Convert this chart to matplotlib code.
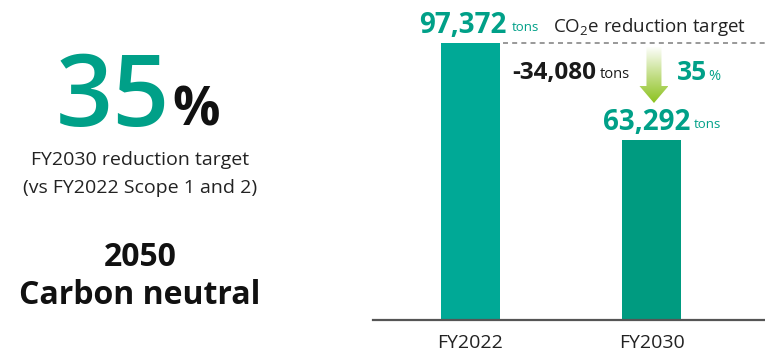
import matplotlib.pyplot as plt
import numpy as np
from matplotlib.patches import Polygon
from matplotlib.colors import LinearSegmentedColormap

plt.rcParams['font.family'] = ['Open Sans', 'DejaVu Sans']
plt.rcParams['mathtext.fontset'] = 'custom'
plt.rcParams['mathtext.rm'] = 'Open Sans'

years = ["FY2022", "FY2030"]
emissions = [97372, 63292]
bar_colors = ["#00a996", "#009b80"]
reduction = emissions[0] - emissions[1]
pct = round(reduction / emissions[0] * 100)

W, H = 765, 353
fig = plt.figure(figsize=(W / 100, H / 100), dpi=100)

def px(x, y):
    return x / W, 1 - y / H

green = "#00a088"

# bar panel
ax = fig.add_axes([373 / W, 1 - 320 / H, (W - 373) / W, 320 / H])
ymax = emissions[0] * 320 / 277
ax.bar([0, 1], emissions, width=0.326, color=bar_colors)
ax.set_xlim(-0.539, 1.627)
ax.set_ylim(0, ymax)
for s in ["top", "right", "left"]:
    ax.spines[s].set_visible(False)
ax.spines["bottom"].set_color("#555555")
ax.spines["bottom"].set_linewidth(1.6)
ax.set_yticks([])
ax.set_xticks([0, 1])
ax.set_xticklabels(years, fontsize=14, color="#222222")
ax.tick_params(axis="x", length=0, pad=10)

def dx(xpx):
    # pixel column -> data x
    return (xpx - 373) / 181 - 0.539

def dy(ypx):
    return (320 - ypx) / 320 * ymax

# dashed reference line at FY2022 level
ax.plot([dx(503), dx(765)], [emissions[0]] * 2, ls=(0, (3, 2.5)), color="#888888", lw=1.2, clip_on=False)

# gradient arrow
xc = dx(654)
shaft = 7.5 / 181
head = 14.5 / 181
ytop = dy(47)
ytip = dy(103)
yneck = dy(86)
poly = Polygon([(xc - shaft, ytop), (xc + shaft, ytop), (xc + shaft, yneck), (xc + head, yneck),
                (xc, ytip), (xc - head, yneck), (xc - shaft, yneck)], closed=True,
               facecolor="none", edgecolor="none")
ax.add_patch(poly)
grad = np.linspace(0, 1, 256).reshape(-1, 1)
cmap = LinearSegmentedColormap.from_list("g", ["#ffffff", "#c4df8a", "#8cc21f"])
im = ax.imshow(grad, cmap=cmap, aspect="auto", origin="upper",
               extent=[xc - head, xc + head, ytip, ytop], zorder=3)
im.set_clip_path(poly)

# value labels
ax.text(dx(507), dy(22), f"{emissions[0]:,}", ha="right", va="center_baseline",
        fontsize=20, fontweight="bold", color=green)
ax.text(dx(512), dy(26), "tons", ha="left", va="center_baseline", fontsize=9.5, color=green)
ax.text(dx(553), dy(24), "CO$_2$e reduction target", ha="left", va="center_baseline",
        fontsize=13.5, color="#222222")

ax.text(dx(690), dy(119), f"{emissions[1]:,}", ha="right", va="center_baseline",
        fontsize=20, fontweight="bold", color=green)
ax.text(dx(694), dy(123), "tons", ha="left", va="center_baseline", fontsize=9.5, color=green)

ax.text(dx(596), dy(70), f"-{reduction:,}", ha="right", va="center_baseline",
        fontsize=17.5, fontweight="bold", color="#1a1a1a")
ax.text(dx(600), dy(73), "tons", ha="left", va="center_baseline", fontsize=10.5, color="#1a1a1a")
ax.text(dx(707), dy(70), f"{pct}", ha="right", va="center_baseline",
        fontsize=19, fontweight="bold", color=green)
ax.text(dx(708), dy(74), "%", ha="left", va="center_baseline", fontsize=10.5, color=green)

# left panel
fig.text(*px(170, 126), f"{pct}", ha="right", va="baseline", fontsize=72, color=green, fontweight="semibold")
fig.text(*px(172, 126), "%", ha="left", va="baseline", fontsize=38, color="#111111", fontweight="bold")
fig.text(*px(140, 160), "FY2030 reduction target", ha="center", va="center", fontsize=14, color="#222222")
fig.text(*px(140, 188), "(vs FY2022 Scope 1 and 2)", ha="center", va="center", fontsize=14, color="#222222")
fig.text(*px(140, 257), "2050", ha="center", va="center", fontsize=23, fontweight="bold", color="#111111")
fig.text(*px(140, 296), "Carbon neutral", ha="center", va="center", fontsize=23, fontweight="bold", color="#111111")

fig.savefig("out.png", dpi=100)
